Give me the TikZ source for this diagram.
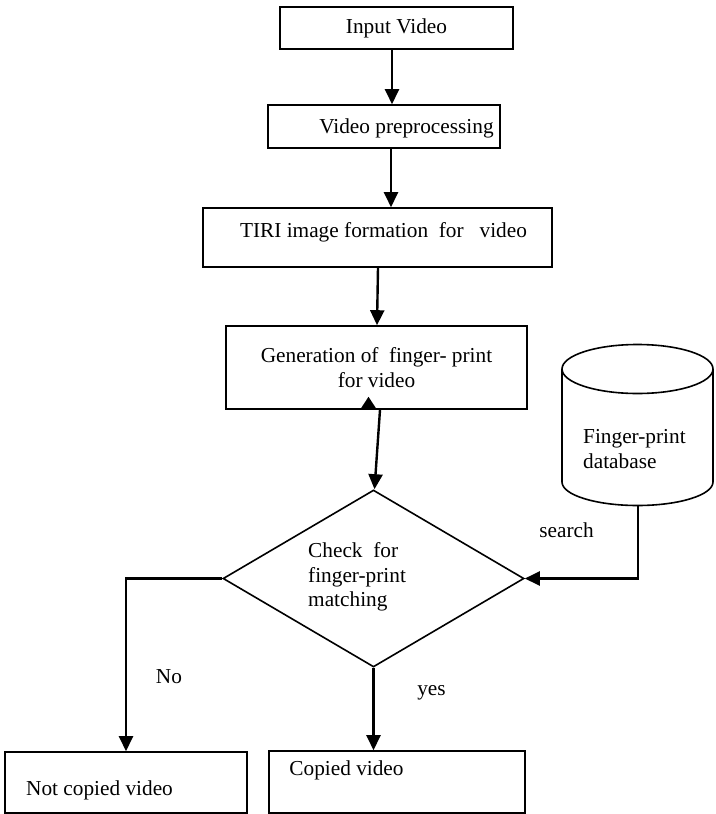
\documentclass[tikz,border=0pt]{standalone}
\usepackage{fontspec}
\setmainfont{Liberation Serif}
\usetikzlibrary{shapes.geometric,arrows.meta}

\begin{document}
\begin{tikzpicture}[x=1pt, y=1pt,
    font=\fontsize{21.3pt}{24.5pt}\selectfont,
    box/.style = {draw, rectangle, line width=1.6pt, inner sep=0pt},
    arr/.style = {line width=2.4pt, -{Triangle[length=15pt,width=14pt]}},
    txt/.style = {inner sep=0pt}]
\useasboundingbox (0,0) rectangle (715,-814);

    \node[box, minimum width=233pt, minimum height=42pt] (input) at (396.5,-28) {Input Video};
    \node[box, minimum width=232pt, minimum height=43pt] (prep) at (384,-126.5) {};
    \node[txt] (preptext) at (406.5,-128) {Video preprocessing};
    \node[box, minimum width=349pt, minimum height=59pt] (tiri) at (377.5,-237.5) {};
    \node[txt] (tiritext) at (383.5,-232) {TIRI image formation~~for~~~video};
    \node[box, minimum width=301pt, minimum height=83pt, align=center] (gen) at (376.5,-367.5) {Generation of~~finger- print\\for video};
    \node[diamond, draw, line width=1.6pt, minimum width=301pt, minimum height=177pt, inner sep=0pt] (chk) at (373.5,-578.5) {};
    \node[txt, anchor=west, align=left] (chktext) at (308,-577) {Check~~for\\finger-print\\matching};
    \node[box, minimum width=242pt, minimum height=61pt] (notc) at (126,-782.5) {};
    \node[txt] (notctext) at (99.5,-790) {Not copied video};
    \node[box, minimum width=256pt, minimum height=62pt] (copd) at (397,-782) {};
    \node[txt] (copdtext) at (346.5,-770) {Copied video};

% database
\draw[line width=1.6pt] (637.5,-369) ellipse [x radius=75.5, y radius=24.5];
\draw[line width=1.6pt] (562,-369) -- (562,-482) arc[start angle=180, end angle=360, x radius=75.5, y radius=23.5] -- (713,-369);
    \coordinate (dbbot) at (638,-505.5);
    \node[txt, anchor=west, align=left] (db) at (583,-449) {Finger-print\\database};

% labels
    \node[txt] (search) at (566.5,-530) {search};
    \node[txt] (no) at (169,-677) {No};
    \node[txt] (yes) at (431.5,-693) {yes};

\draw[arr] ([xshift=-4.5pt]input.south) -- ([xshift=8pt]prep.north);
\draw[arr] ([xshift=7pt]prep.south) -- ([xshift=13.5pt]tiri.north);
\draw[arr] ([xshift=0.5pt]tiri.south) -- ([xshift=0.5pt]gen.north);
\draw[arr] ([xshift=3.5pt]gen.south) -- ([xshift=1pt]chk.north);
\fill ([xshift=-16.5pt]gen.south) -- ++(17,0) -- ++(-8.5,13) -- cycle;
\draw[arr] (dbbot) |- (chk.east);
\draw[arr] (chk.west) -| (notc.north);
\draw[arr] (chk.south) -- (chk.south |- copd.north);
\end{tikzpicture}
\end{document}
